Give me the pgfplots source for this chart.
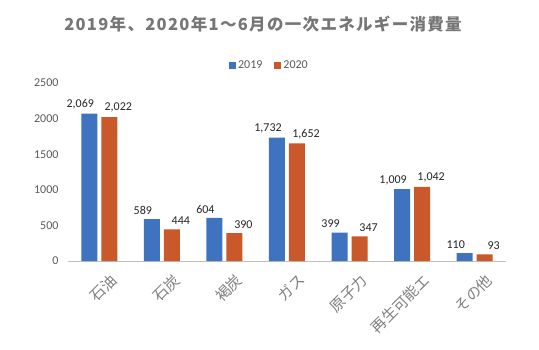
\documentclass[border=0pt]{standalone}
\usepackage{pgfplots}
\pgfplotsset{compat=1.18}
\usepackage{fontspec}
\setmainfont{Carlito}
\newfontfamily\cjk{Noto Sans CJK JP}
\newfontfamily\cjktitle[LetterSpace=8]{Noto Sans CJK JP}
\definecolor{cblue}{HTML}{3F72BF}
\definecolor{corange}{HTML}{C9582B}
\definecolor{tgray}{HTML}{595959}
\definecolor{ttl}{HTML}{767676}
\definecolor{agray}{HTML}{BFBFBF}
\begin{document}
\begin{tikzpicture}[x=1pt,y=1pt]
\useasboundingbox (0,0) rectangle (539,349);
\fill[white] (0,0) rectangle (539,349);
\node[font=\cjktitle\bfseries\fontsize{16.5}{19}\selectfont, text=ttl] at (263,325) {2019年、2020年1～6月の一次エネルギー消費量};
\begin{axis}[
  at={(68pt,88pt)}, anchor=south west,
  scale only axis, width=438pt, height=178pt,
  ymin=0, ymax=2500, ytick={0,500,...,2500},
  xmin=-0.5, xmax=6.5,
  xtick=data,
  xticklabels={石油,石炭,褐炭,ガス,原子力,再生可能エ,その他},
  ybar, bar width=16pt, 
  axis x line*=bottom, axis y line*=left,
  y axis line style={draw=none},
  x axis line style={agray, line width=1pt},
  major tick length=0pt,
  tick label style={text=tgray},
  yticklabel style={font=\fontsize{12}{14}\selectfont, xshift=-6pt, /pgf/number format/1000 sep={}},
  xticklabel style={font=\cjk\fontsize{15}{17}\selectfont, text=gray, rotate=45, anchor=north east, inner sep=1pt, yshift=-14pt, xshift=0pt},
  /pgf/number format/assume math mode=true,
  nodes near coords,
  nodes near coords style={font=\fontsize{12}{14}\selectfont, text=black!85, /pgf/number format/1000 sep={,}},
  every node near coord/.append style={yshift=1pt},
  legend style={draw=none, at={(0.46,1.05)}, anchor=south, legend columns=2, font=\fontsize{12}{14}\selectfont, text=tgray, /tikz/every even column/.append style={column sep=10pt}},
  legend image code/.code={\fill[#1] (0pt,-3.5pt) rectangle (7pt,3.5pt);},
  enlarge x limits=false,
  clip=false,
]
\addplot[fill=cblue, draw=none, bar shift=-10pt, every node near coord/.append style={xshift=-9pt}] coordinates {(0,2069) (1,589) (2,604) (3,1732) (4,399) (5,1009) (6,110)};
\addplot[fill=corange, draw=none, bar shift=10pt, every node near coord/.append style={xshift=9pt}] coordinates {(0,2022) (1,444) (2,390) (3,1652) (4,347) (5,1042) (6,93)};
\legend{2019,2020}
\end{axis}
\end{tikzpicture}
\end{document}
